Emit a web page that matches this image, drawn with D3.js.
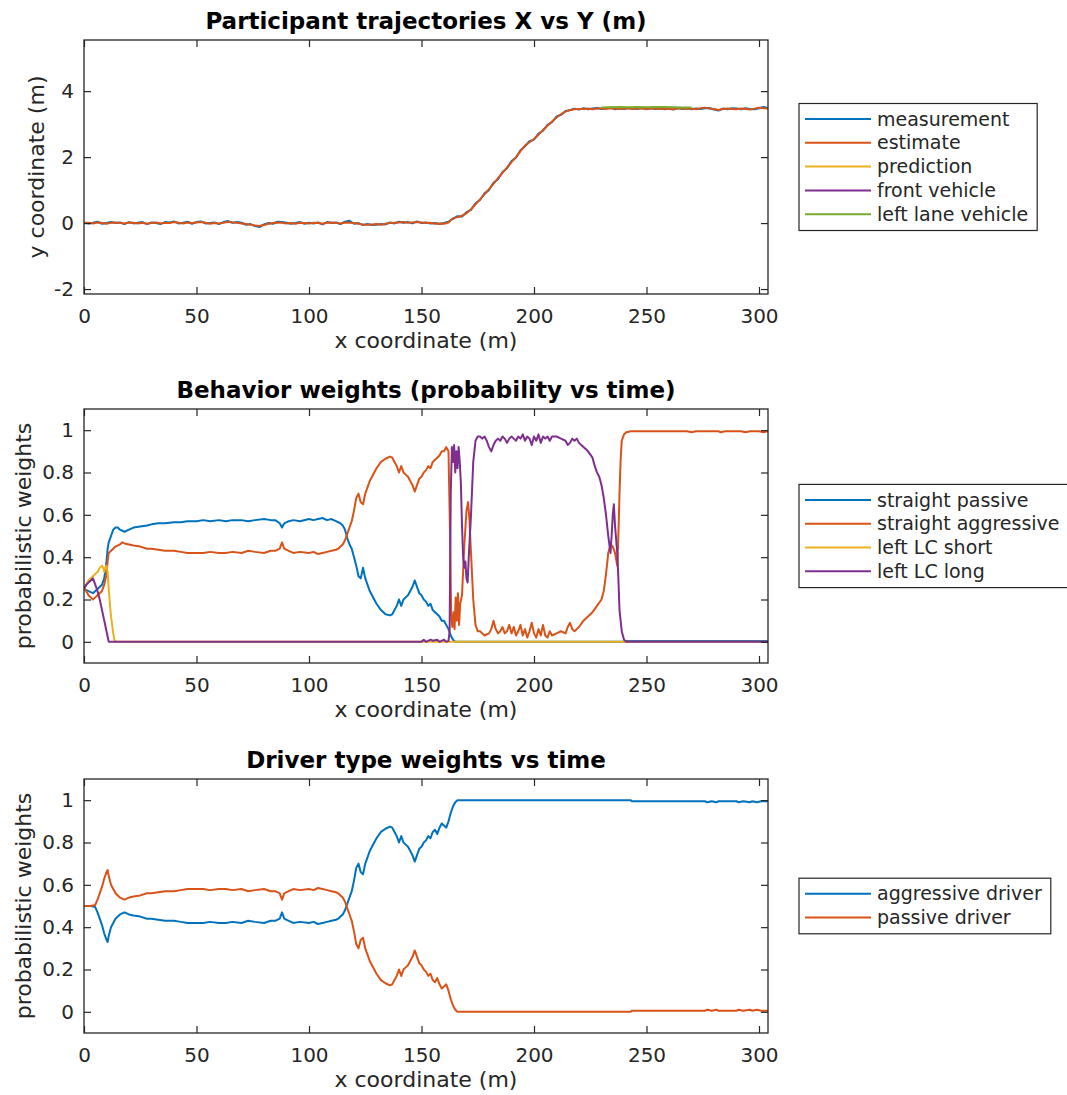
<!DOCTYPE html>
<html>
<head>
<meta charset="utf-8">
<script src="https://cdn.jsdelivr.net/npm/d3@7"></script>
<style>
html, body { margin: 0; padding: 0; background: #fff; }
svg { display: block; font-family: "DejaVu Sans", sans-serif; }
</style>
</head>
<body>
<svg id="fig" width="1067" height="1095"></svg>
<script>
// ---------- shared x axis ----------
const xDomain = [0, 304];
const xTicks = [0, 50, 100, 150, 200, 250, 300];

// ---------- panel 1: trajectories ----------
const trajX = [
  0,2,4,6,8,10,12,14,16,18,20,22,24,26,28,30,32,34,36,38,
  40,42,44,46,48,50,52,54,56,58,60,62,64,66,68,70,72,74,76,78,
  80,82,84,86,88,90,92,94,96,98,100,102,104,106,108,110,112,114,116,118,
  120,122,124,126,128,130,132,134,136,138,140,142,144,146,148,150,152,154,156,158,
  160,162,164,166,168,170,172,174,176,178,180,182,184,186,188,190,192,194,196,198,
  200,202,204,206,208,210,212,214,216,218,220,222,224,226,228,230,232,234,236,238,
  240,242,244,246,248,250,252,254,256,258,260,262,264,266,268,270,272,274,276,278,
  280,282,284,286,288,290,292,294,296,298,300,302,304
];
const measurementY = [
  0.02,-0.01,0.01,0.04,-0.02,0,0.03,0,0.02,-0.03,0.03,-0.01,0.01,0.03,-0.03,0.02,0,-0.03,0.03,0.02,
  0.05,-0.01,0.01,0.04,-0.02,0.03,0.05,-0.01,0,0.02,-0.03,0.03,0.06,0.01,0.03,0.01,-0.05,-0.03,-0.09,-0.12,
  -0.04,0,-0.02,0.04,0.03,0.01,-0.02,0,0.03,-0.02,0.01,-0.01,0.02,-0.04,0.03,0,0.02,-0.03,0.04,0.07,
  -0.02,0,-0.06,-0.03,-0.06,-0.05,-0.03,-0.04,0.02,-0.01,0.04,0.01,0.03,-0.01,0.05,0,0.02,-0.01,0,-0.03,
  0,0.04,0.13,0.21,0.2,0.33,0.4,0.6,0.7,0.9,1.0,1.22,1.33,1.55,1.66,1.88,1.98,2.21,2.33,2.48,
  2.53,2.71,2.8,2.98,3.06,3.23,3.28,3.4,3.42,3.47,3.44,3.48,3.45,3.47,3.49,3.46,3.48,3.5,3.45,3.48,
  3.46,3.49,3.47,3.46,3.49,3.45,3.48,3.46,3.48,3.45,3.47,3.44,3.49,3.46,3.48,3.45,3.47,3.46,3.48,3.49,
  3.44,3.41,3.47,3.45,3.48,3.47,3.45,3.48,3.46,3.45,3.48,3.52,3.49
];
const estimateY = [
  0,0.01,-0.01,0.02,0,-0.02,0.01,0.02,0,-0.01,0.02,0.01,-0.01,0.01,-0.02,0,0.02,-0.01,0.01,0,
  0.03,0.01,-0.01,0.02,0,0.02,0.03,0.01,-0.02,0,-0.01,0.01,0.04,0.02,0.01,-0.01,-0.03,-0.05,-0.07,-0.09,
  -0.06,-0.02,0,0.02,0.01,-0.01,0,-0.02,0.01,0,-0.01,0.01,0,-0.02,0.01,0.02,0,-0.01,0.02,0.01,
  0,-0.02,-0.04,-0.05,-0.04,-0.03,-0.05,-0.02,0,0.01,0.02,0.03,0.01,0.02,0.03,0.02,0,0.01,-0.02,-0.01,
  -0.02,0.02,0.15,0.18,0.22,0.3,0.42,0.57,0.72,0.87,1.03,1.19,1.36,1.52,1.68,1.85,2.0,2.18,2.35,2.45,
  2.55,2.68,2.82,2.95,3.08,3.2,3.3,3.38,3.43,3.45,3.46,3.46,3.47,3.45,3.47,3.48,3.46,3.48,3.47,3.46,
  3.48,3.47,3.46,3.48,3.47,3.46,3.47,3.48,3.46,3.47,3.46,3.45,3.47,3.48,3.46,3.47,3.45,3.48,3.5,3.47,
  3.46,3.43,3.46,3.47,3.46,3.45,3.47,3.46,3.44,3.47,3.5,3.48,3.47
];
const predictionX = [];
const predictionY = [];
const frontVehicleX = [];
const frontVehicleY = [];
const leftLaneX = [230,234,238,242,246,250,254,258,262,266,270];
const leftLaneY = [3.5,3.51,3.52,3.51,3.52,3.51,3.52,3.52,3.51,3.5,3.5];

// ---------- panel 2: behavior weights ----------
const straightPassive = [
  [0,0.25],[2,0.24],[4,0.23],[6,0.25],[8,0.27],[9,0.3],[10,0.38],[10.5,0.44],[11,0.47],[12,0.5],
  [13,0.53],[14,0.54],[15,0.54],[16,0.53],[18,0.52],[20,0.53],[22,0.54],[25,0.545],[28,0.55],[30,0.555],
  [33,0.56],[36,0.56],[40,0.565],[43,0.565],[46,0.57],[50,0.57],[53,0.575],[56,0.57],[60,0.575],[63,0.57],
  [66,0.575],[70,0.575],[73,0.57],[76,0.575],[80,0.58],[83,0.575],[85,0.575],[87,0.56],[88,0.54],[89,0.56],
  [91,0.57],[93,0.575],[96,0.57],[100,0.58],[102,0.575],[104,0.58],[106,0.585],[108,0.575],[110,0.58],[112,0.57],
  [113,0.565],[114,0.56],[115,0.55],[116,0.53],[117,0.49],[118,0.46],[119,0.44],[120,0.4],[121,0.36],[122,0.31],
  [123,0.3],[124,0.35],[125,0.3],[126,0.27],[127,0.24],[128,0.22],[130,0.18],[132,0.15],[134,0.13],[136,0.125],
  [137,0.13],[138,0.15],[139,0.17],[140,0.2],[141,0.17],[142,0.2],[143,0.21],[144,0.22],[145,0.24],[146,0.26],
  [147,0.29],[148,0.26],[149,0.23],[150,0.22],[151,0.2],[152,0.19],[153,0.17],[154,0.18],[155,0.15],[156,0.14],
  [157,0.13],[158,0.12],[159,0.1],[160,0.1],[161,0.08],[162,0.06],[163,0.03],[164,0.01],[165,0],[240,0],
  [241,0.004],[304,0.004]
];
const straightAggressive = [
  [0,0.25],[1,0.24],[2,0.22],[3,0.21],[4,0.2],[5,0.21],[6,0.22],[7,0.23],[8,0.24],[9,0.27],
  [10,0.32],[10.5,0.38],[11,0.42],[12,0.43],[13,0.44],[14,0.45],[16,0.46],[17,0.47],[18,0.465],[20,0.46],
  [22,0.455],[25,0.45],[28,0.44],[30,0.44],[33,0.435],[36,0.43],[40,0.43],[43,0.425],[46,0.42],[50,0.42],
  [53,0.42],[56,0.425],[60,0.42],[63,0.42],[66,0.425],[70,0.42],[73,0.43],[76,0.425],[80,0.42],[83,0.43],
  [85,0.43],[87,0.44],[88,0.47],[89,0.44],[91,0.43],[93,0.42],[96,0.425],[100,0.42],[102,0.425],[104,0.415],
  [106,0.42],[108,0.425],[110,0.43],[112,0.435],[113,0.44],[114,0.45],[115,0.46],[116,0.48],[117,0.51],[118,0.54],
  [119,0.57],[120,0.62],[121,0.68],[122,0.7],[123,0.66],[124,0.65],[125,0.7],[126,0.73],[127,0.76],[128,0.78],
  [130,0.82],[132,0.85],[134,0.865],[136,0.875],[137,0.87],[138,0.85],[139,0.83],[140,0.8],[141,0.83],[142,0.8],
  [143,0.79],[144,0.78],[145,0.76],[146,0.74],[147,0.71],[148,0.74],[149,0.77],[150,0.78],[151,0.8],[152,0.81],
  [153,0.83],[154,0.82],[155,0.85],[156,0.86],[157,0.87],[158,0.88],[159,0.9],[160,0.9],[161,0.92],[162,0.9],
  [162.7,0.5],[163.2,0.12],[163.7,0.07],[164.2,0.14],[164.7,0.06],[165.2,0.21],[165.7,0.1],[166.2,0.23],[166.7,0.08],[167.2,0.18],
  [168,0.22],[169,0.45],[170,0.62],[170.7,0.66],[171.3,0.58],[172,0.42],[173,0.2],[174,0.08],[175,0.05],[176,0.05],
  [178,0.03],[180,0.04],[181,0.06],[182,0.1],[183,0.06],[184,0.04],[185,0.05],[186,0.07],[187,0.04],[188,0.05],
  [189,0.08],[190,0.04],[191,0.07],[192,0.03],[193,0.05],[194,0.08],[195,0.03],[196,0.06],[197,0.02],[198,0.05],
  [199,0.09],[200,0.04],[201,0.02],[202,0.06],[203,0.03],[204,0.08],[205,0.03],[206,0.02],[207,0.05],[208,0.03],
  [210,0.04],[212,0.05],[214,0.04],[215,0.07],[216,0.09],[217,0.06],[218,0.05],[219,0.06],[220,0.07],[222,0.1],
  [224,0.12],[226,0.14],[228,0.17],[230,0.2],[231,0.24],[232,0.32],[233,0.42],[234,0.46],[235,0.45],[236,0.42],
  [237,0.36],[237.5,0.5],[238,0.7],[238.5,0.86],[239,0.95],[240,0.98],[241,0.99],[243,0.995],[268,0.995],[270,0.99],
  [272,0.995],[282,0.995],[283,0.99],[285,0.995],[292,0.995],[294,0.99],[296,0.995],[300,0.995],[302,0.99],[304,0.995]
];
const leftLCShort = [
  [0,0.25],[1,0.27],[2,0.29],[3,0.3],[4,0.31],[5,0.32],[6,0.33],[7,0.35],[8,0.36],[8.5,0.35],
  [9,0.33],[9.5,0.35],[10,0.36],[10.5,0.33],[11,0.25],[11.5,0.18],[12,0.12],[12.5,0.08],[13,0.04],[13.5,0.01],
  [14,0],[304,0]
];
const leftLCLong = [
  [0,0.25],[1,0.27],[2,0.28],[3,0.29],[4,0.3],[5,0.27],[6,0.24],[7,0.2],[8,0.15],[9,0.1],
  [10,0.05],[11,0],[150,0],[151,0.01],[152,0],[154,0.01],[155,0.005],[157,0.01],[158,0],[160,0.01],
  [161,0],[162,0.005],[162.5,0.05],[163,0.7],[163.5,0.92],[164,0.85],[164.5,0.93],[165,0.8],[165.5,0.9],[166,0.82],
  [166.5,0.92],[167,0.85],[167.5,0.75],[168,0.55],[168.5,0.4],[169,0.35],[169.5,0.38],[170,0.3],[170.5,0.28],[171,0.4],
  [172,0.6],[173,0.85],[174,0.95],[175,0.97],[176,0.97],[177,0.96],[178,0.97],[179,0.95],[180,0.92],[181,0.9],
  [182,0.93],[183,0.95],[184,0.96],[185,0.95],[186,0.97],[187,0.96],[188,0.94],[189,0.96],[190,0.97],[191,0.96],
  [192,0.95],[193,0.97],[194,0.96],[195,0.98],[196,0.95],[197,0.97],[198,0.96],[199,0.93],[200,0.97],[201,0.95],
  [202,0.98],[203,0.94],[204,0.97],[205,0.96],[206,0.97],[207,0.95],[208,0.97],[210,0.97],[212,0.96],[214,0.95],
  [215,0.93],[216,0.94],[217,0.96],[218,0.95],[219,0.96],[220,0.94],[222,0.92],[224,0.9],[226,0.87],[227,0.83],
  [228,0.8],[229,0.78],[230,0.74],[231,0.68],[232,0.6],[233,0.5],[234,0.42],[234.5,0.5],[235,0.6],[235.5,0.65],
  [236,0.55],[237,0.42],[237.5,0.3],[238,0.15],[239,0.05],[240,0.01],[241,0],[304,0]
];

// ---------- panel 3: driver type weights ----------
const aggressiveDriver = [
  [0,0.5],[3,0.5],[5,0.495],[6,0.47],[7,0.44],[8,0.41],[9,0.37],[10,0.34],[10.5,0.33],[11,0.36],
  [12,0.4],[13,0.42],[14,0.44],[15,0.45],[16,0.46],[17,0.465],[18,0.47],[20,0.46],[22,0.455],[25,0.45],
  [28,0.44],[30,0.44],[33,0.435],[36,0.43],[40,0.43],[43,0.425],[46,0.42],[50,0.42],[53,0.42],[56,0.425],
  [60,0.42],[63,0.42],[66,0.425],[70,0.42],[73,0.43],[76,0.425],[80,0.42],[83,0.43],[85,0.43],[87,0.44],
  [88,0.47],[89,0.44],[91,0.43],[93,0.42],[96,0.425],[100,0.42],[102,0.425],[104,0.415],[106,0.42],[108,0.425],
  [110,0.43],[112,0.435],[113,0.44],[114,0.45],[115,0.46],[116,0.48],[117,0.51],[118,0.54],[119,0.57],[120,0.62],
  [121,0.68],[122,0.7],[123,0.66],[124,0.65],[125,0.7],[126,0.73],[127,0.76],[128,0.78],[130,0.82],[132,0.85],
  [134,0.865],[136,0.875],[137,0.87],[138,0.85],[139,0.83],[140,0.8],[141,0.83],[142,0.8],[143,0.79],[144,0.78],
  [145,0.76],[146,0.74],[147,0.71],[148,0.74],[149,0.77],[150,0.78],[151,0.8],[152,0.81],[153,0.83],[154,0.82],
  [155,0.85],[156,0.86],[157,0.84],[158,0.87],[159,0.89],[160,0.88],[161,0.87],[162,0.9],[163,0.94],[164,0.97],
  [165,0.99],[166,1.0],[243,1.0],[243.5,0.995],[276,0.995],[277,0.99],[279,0.995],[281,0.99],[282,0.995],[290,0.995],
  [291,0.99],[293,0.995],[296,0.99],[297,0.995],[299,0.99],[301,0.995],[304,0.995]
];
const passiveDriver = [
  [0,0.5],[3,0.5],[5,0.505],[6,0.53],[7,0.56],[8,0.59],[9,0.63],[10,0.66],[10.5,0.67],[11,0.64],
  [12,0.6],[13,0.58],[14,0.56],[15,0.55],[16,0.54],[17,0.535],[18,0.53],[20,0.54],[22,0.545],[25,0.55],
  [28,0.56],[30,0.56],[33,0.565],[36,0.57],[40,0.57],[43,0.575],[46,0.58],[50,0.58],[53,0.58],[56,0.575],
  [60,0.58],[63,0.58],[66,0.575],[70,0.58],[73,0.57],[76,0.575],[80,0.58],[83,0.57],[85,0.57],[87,0.56],
  [88,0.53],[89,0.56],[91,0.57],[93,0.58],[96,0.575],[100,0.58],[102,0.575],[104,0.585],[106,0.58],[108,0.575],
  [110,0.57],[112,0.565],[113,0.56],[114,0.55],[115,0.54],[116,0.52],[117,0.49],[118,0.46],[119,0.43],[120,0.38],
  [121,0.32],[122,0.3],[123,0.34],[124,0.35],[125,0.3],[126,0.27],[127,0.24],[128,0.22],[130,0.18],[132,0.15],
  [134,0.135],[136,0.125],[137,0.13],[138,0.15],[139,0.17],[140,0.2],[141,0.17],[142,0.2],[143,0.21],[144,0.22],
  [145,0.24],[146,0.26],[147,0.29],[148,0.26],[149,0.23],[150,0.22],[151,0.2],[152,0.19],[153,0.17],[154,0.18],
  [155,0.15],[156,0.14],[157,0.16],[158,0.13],[159,0.11],[160,0.12],[161,0.13],[162,0.1],[163,0.06],[164,0.03],
  [165,0.01],[166,0],[243,0],[243.5,0.005],[276,0.005],[277,0.01],[279,0.005],[281,0.01],[282,0.005],[290,0.005],
  [291,0.01],[293,0.005],[296,0.01],[297,0.005],[299,0.01],[301,0.005],[304,0.005]
];

// ---------- tick values ----------
const trajYTicks = [-2, 0, 2, 4];
const weightTicks = [0, 0.2, 0.4, 0.6, 0.8, 1];

// ---------- styling ----------
const C = { blue: "#0072BD", orange: "#D95319", yellow: "#EDB120", purple: "#7E2F8E", green: "#77AC30" };
const axisColor = "#262626";
const tickFont = 20, labelFont = 22, titleFont = 23, legendFont = 19;

const svg = d3.select("#fig");
svg.append("rect").attr("width", 1067).attr("height", 1095).attr("fill", "#fff");

function drawPanel(p, idx) {
  const box = p.box;
  const x = d3.scaleLinear().domain(xDomain).range([box.left, box.right]);
  const y = d3.scaleLinear().domain(p.yDomain).range([box.bottom, box.top]);
  const g = svg.append("g");

  const clipId = "clip" + idx;
  g.append("clipPath").attr("id", clipId).append("rect")
    .attr("x", box.left).attr("y", box.top)
    .attr("width", box.right - box.left).attr("height", box.bottom - box.top);

  // data lines
  const line = d3.line().x(d => x(d[0])).y(d => y(d[1]));
  const lines = g.append("g").attr("clip-path", `url(#${clipId})`);
  p.series.forEach(s => {
    if (!s.data.length) return;
    lines.append("path").attr("d", line(s.data))
      .attr("fill", "none").attr("stroke", s.color)
      .attr("stroke-width", 2).attr("stroke-linejoin", "round");
  });

  // axes with inward ticks on all four sides
  const tl = 7;
  const styleAxis = sel => {
    sel.select(".domain").remove();
    sel.selectAll(".tick line").attr("stroke", axisColor).attr("stroke-width", 1.2);
    sel.selectAll(".tick text").attr("fill", axisColor).attr("font-size", tickFont)
      .attr("font-family", "DejaVu Sans");
  };
  g.append("g").attr("transform", `translate(0,${box.bottom})`)
    .call(d3.axisBottom(x).tickValues(xTicks).tickFormat(d => String(d)).tickSizeInner(-tl).tickSizeOuter(0).tickPadding(15))
    .call(styleAxis);
  g.append("g").attr("transform", `translate(0,${box.top})`)
    .call(d3.axisTop(x).tickValues(xTicks).tickFormat("").tickSizeInner(-tl).tickSizeOuter(0))
    .call(styleAxis);
  g.append("g").attr("transform", `translate(${box.left},0)`)
    .call(d3.axisLeft(y).tickValues(p.yTicks).tickFormat(p.yFormat).tickSizeInner(-tl).tickSizeOuter(0).tickPadding(10))
    .call(styleAxis);
  g.append("g").attr("transform", `translate(${box.right},0)`)
    .call(d3.axisRight(y).tickValues(p.yTicks).tickFormat("").tickSizeInner(-tl).tickSizeOuter(0))
    .call(styleAxis);

  g.append("rect").attr("x", box.left).attr("y", box.top)
    .attr("width", box.right - box.left).attr("height", box.bottom - box.top)
    .attr("fill", "none").attr("stroke", axisColor).attr("stroke-width", 1.3);

  const cx = (box.left + box.right) / 2, cy = (box.top + box.bottom) / 2;
  g.append("text").attr("x", cx).attr("y", box.top - 11.5)
    .attr("text-anchor", "middle").attr("font-weight", "bold").attr("font-size", titleFont)
    .attr("fill", "#000").text(p.title);
  g.append("text").attr("x", cx).attr("y", box.bottom + 54)
    .attr("text-anchor", "middle").attr("font-size", labelFont).attr("fill", axisColor)
    .text("x coordinate (m)");
  g.append("text").attr("transform", `translate(${p.yLabelX},${cy}) rotate(-90)`)
    .attr("text-anchor", "middle").attr("font-size", labelFont).attr("fill", axisColor)
    .text(p.yLabel);

  // legend
  const rowH = 23.8;
  const lg = g.append("g");
  const lTop = cy - (p.series.length * rowH + 8) / 2;
  const frame = lg.append("rect");
  let maxEnd = 0;
  p.series.forEach((s, i) => {
    const ry = lTop + 15.5 + i * rowH;
    lg.append("line").attr("x1", 805).attr("x2", 871).attr("y1", ry).attr("y2", ry)
      .attr("stroke", s.color).attr("stroke-width", 2);
    const t = lg.append("text").attr("x", 877).attr("y", ry).attr("dy", "0.35em")
      .attr("font-size", legendFont).attr("fill", axisColor).text(s.name);
    maxEnd = Math.max(maxEnd, 877 + t.node().getComputedTextLength());
  });
  frame.attr("x", 799).attr("y", lTop).attr("width", maxEnd + 9 - 799)
    .attr("height", p.series.length * rowH + 8)
    .attr("fill", "#fff").attr("stroke", axisColor).attr("stroke-width", 1.2);
}

// plain hyphen-minus for negative tick labels
const intFmt = d => String(d);
const weightFmt = d => d === 0 ? "0" : d === 1 ? "1" : d.toFixed(1);

drawPanel({
  box: { left: 84, right: 768, top: 40, bottom: 294 },
  yDomain: [-2.15, 5.55], yTicks: trajYTicks, yFormat: intFmt,
  title: "Participant trajectories X vs Y (m)", yLabel: "y coordinate (m)", yLabelX: 44,
  series: [
    { name: "measurement", color: C.blue, data: d3.zip(trajX, measurementY) },
    { name: "estimate", color: C.orange, data: d3.zip(trajX, estimateY) },
    { name: "prediction", color: C.yellow, data: d3.zip(predictionX, predictionY) },
    { name: "front vehicle", color: C.purple, data: d3.zip(frontVehicleX, frontVehicleY) },
    { name: "left lane vehicle", color: C.green, data: d3.zip(leftLaneX, leftLaneY) }
  ]
}, 0);

drawPanel({
  box: { left: 84, right: 768, top: 409, bottom: 663 },
  yDomain: [-0.1, 1.1], yTicks: weightTicks, yFormat: weightFmt,
  title: "Behavior weights (probability vs time)", yLabel: "probabilistic weights", yLabelX: 31,
  series: [
    { name: "straight passive", color: C.blue, data: straightPassive },
    { name: "straight aggressive", color: C.orange, data: straightAggressive },
    { name: "left LC short", color: C.yellow, data: leftLCShort },
    { name: "left LC long", color: C.purple, data: leftLCLong }
  ]
}, 1);

drawPanel({
  box: { left: 84, right: 768, top: 779, bottom: 1033 },
  yDomain: [-0.1, 1.1], yTicks: weightTicks, yFormat: weightFmt,
  title: "Driver type weights vs time", yLabel: "probabilistic weights", yLabelX: 31,
  series: [
    { name: "aggressive driver", color: C.blue, data: aggressiveDriver },
    { name: "passive driver", color: C.orange, data: passiveDriver }
  ]
}, 2);
</script>
</body>
</html>
